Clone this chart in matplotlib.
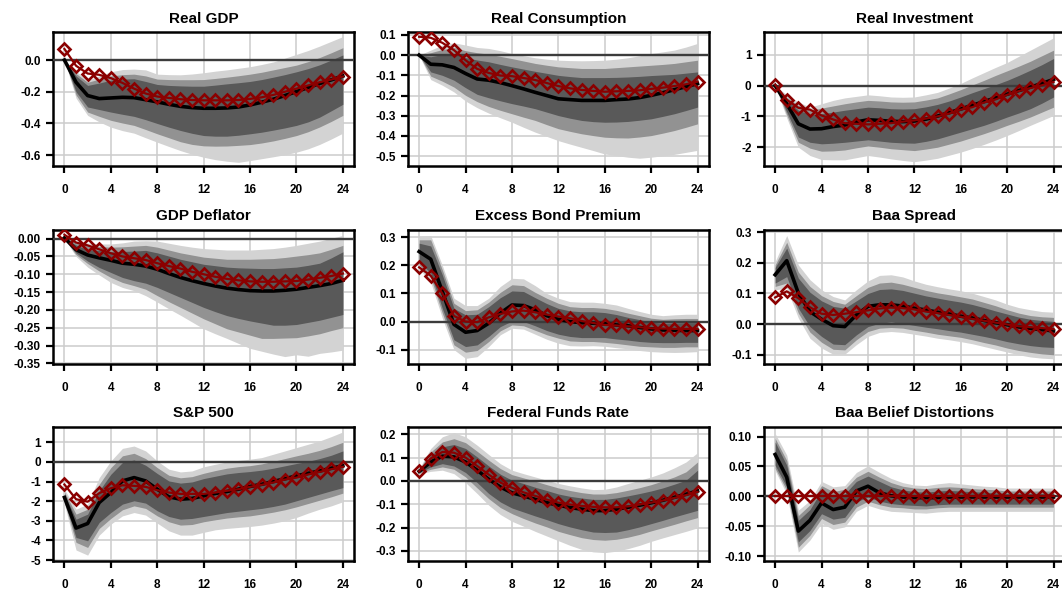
import numpy as np
import matplotlib.pyplot as plt
from matplotlib.ticker import FormatStrFormatter

plt.rcParams['font.family'] = ['Liberation Sans', 'DejaVu Sans']
plt.rcParams['font.weight'] = 'bold'

horizon = list(range(25))
xticks = [0, 4, 8, 12, 16, 20, 24]

# ---- Real GDP
gdp_red = [0.07, -0.036, -0.085, -0.093, -0.114, -0.144, -0.18, -0.211, -0.23, -0.239, -0.247, -0.252, -0.254,
           -0.254, -0.254, -0.252, -0.245, -0.235, -0.22, -0.2, -0.18, -0.16, -0.14, -0.123, -0.104]
gdp_med = [0.0, -0.14, -0.224, -0.243, -0.239, -0.235, -0.237, -0.25, -0.264, -0.279, -0.292, -0.3, -0.304,
           -0.304, -0.302, -0.296, -0.283, -0.266, -0.247, -0.224, -0.199, -0.173, -0.148, -0.125, -0.101]
gdp_o_hi = [0.0, -0.07, -0.127, -0.1, -0.074, -0.06, -0.057, -0.062, -0.089, -0.092, -0.093, -0.088, -0.08,
            -0.07, -0.062, -0.052, -0.042, -0.028, -0.012, 0.012, 0.036, 0.06, 0.088, 0.118, 0.148]
gdp_m_hi = [0.0, -0.085, -0.14, -0.12, -0.1, -0.092, -0.089, -0.1, -0.12, -0.123, -0.124, -0.124, -0.123,
            -0.116, -0.108, -0.099, -0.089, -0.077, -0.062, -0.047, -0.032, -0.01, 0.016, 0.046, 0.078]
gdp_i_hi = [0.0, -0.1, -0.16, -0.145, -0.127, -0.12, -0.118, -0.135, -0.154, -0.16, -0.163, -0.165, -0.165,
            -0.158, -0.15, -0.143, -0.135, -0.123, -0.108, -0.092, -0.074, -0.054, -0.03, 0.0, 0.032]
gdp_i_lo = [0.0, -0.2, -0.296, -0.312, -0.328, -0.342, -0.355, -0.376, -0.4, -0.423, -0.444, -0.462, -0.476,
            -0.48, -0.48, -0.474, -0.465, -0.455, -0.442, -0.428, -0.412, -0.39, -0.36, -0.32, -0.279]
gdp_m_lo = [0.0, -0.22, -0.328, -0.355, -0.38, -0.397, -0.412, -0.438, -0.465, -0.49, -0.515, -0.532, -0.541,
            -0.543, -0.542, -0.538, -0.533, -0.523, -0.51, -0.494, -0.476, -0.452, -0.422, -0.387, -0.349]
gdp_o_lo = [0.0, -0.24, -0.349, -0.39, -0.423, -0.445, -0.461, -0.49, -0.518, -0.545, -0.571, -0.594, -0.613,
            -0.628, -0.638, -0.645, -0.634, -0.622, -0.61, -0.597, -0.581, -0.56, -0.532, -0.498, -0.461]

# ---- Real Consumption
con_red = [0.091, 0.086, 0.061, 0.025, -0.025, -0.068, -0.088, -0.101, -0.104, -0.113, -0.123, -0.138, -0.153,
           -0.164, -0.172, -0.177, -0.181, -0.179, -0.177, -0.174, -0.167, -0.161, -0.153, -0.144, -0.131]
con_med = [0.0, -0.045, -0.048, -0.061, -0.091, -0.118, -0.124, -0.136, -0.151, -0.167, -0.184, -0.2, -0.216,
           -0.22, -0.224, -0.224, -0.224, -0.22, -0.217, -0.21, -0.199, -0.186, -0.171, -0.156, -0.141]
con_o_hi = [0.0, 0.025, 0.05, 0.061, 0.05, 0.038, 0.033, 0.022, 0.008, -0.003, -0.013, -0.02, -0.025,
            -0.027, -0.028, -0.027, -0.025, -0.02, -0.013, -0.003, 0.008, 0.016, 0.025, 0.04, 0.058]
con_m_hi = [0.0, 0.012, 0.028, 0.038, 0.022, 0.012, 0.005, -0.006, -0.017, -0.029, -0.041, -0.05, -0.058,
            -0.062, -0.066, -0.066, -0.066, -0.062, -0.058, -0.054, -0.05, -0.046, -0.041, -0.033, -0.025]
con_i_hi = [0.0, -0.008, 0.003, 0.008, -0.012, -0.024, -0.033, -0.046, -0.058, -0.069, -0.08, -0.09, -0.1,
            -0.106, -0.111, -0.111, -0.111, -0.11, -0.108, -0.105, -0.101, -0.098, -0.095, -0.089, -0.083]
con_i_lo = [0.0, -0.083, -0.1, -0.124, -0.161, -0.194, -0.211, -0.226, -0.24, -0.252, -0.265, -0.282, -0.299,
            -0.312, -0.323, -0.329, -0.332, -0.331, -0.328, -0.322, -0.315, -0.303, -0.29, -0.274, -0.257]
con_m_lo = [0.0, -0.104, -0.129, -0.158, -0.199, -0.23, -0.254, -0.273, -0.29, -0.307, -0.323, -0.344, -0.364,
            -0.377, -0.389, -0.398, -0.406, -0.409, -0.41, -0.405, -0.398, -0.386, -0.373, -0.357, -0.34]
con_o_lo = [0.0, -0.121, -0.149, -0.182, -0.227, -0.26, -0.287, -0.31, -0.332, -0.357, -0.381, -0.402, -0.423,
            -0.44, -0.456, -0.472, -0.489, -0.497, -0.505, -0.51, -0.505, -0.498, -0.491, -0.481, -0.471]

# ---- Real Investment
inv_red = [0.03, -0.46, -0.72, -0.78, -0.97, -1.1, -1.22, -1.24, -1.26, -1.24, -1.22, -1.17, -1.13,
           -1.07, -1.0, -0.91, -0.78, -0.7, -0.55, -0.45, -0.3, -0.18, -0.08, 0.01, 0.12]
inv_med = [0.0, -0.59, -1.24, -1.41, -1.4, -1.33, -1.28, -1.18, -1.11, -1.13, -1.16, -1.17, -1.15,
           -1.09, -0.99, -0.88, -0.76, -0.64, -0.52, -0.4, -0.28, -0.16, -0.05, 0.07, 0.2]
inv_o_hi = [0.0, -0.3, -0.53, -0.7, -0.59, -0.48, -0.4, -0.35, -0.3, -0.33, -0.37, -0.38, -0.37,
            -0.3, -0.22, -0.08, 0.07, 0.25, 0.42, 0.59, 0.75, 0.95, 1.15, 1.35, 1.55]
inv_m_hi = [0.0, -0.38, -0.64, -0.8, -0.73, -0.66, -0.59, -0.53, -0.48, -0.5, -0.53, -0.54, -0.53,
            -0.47, -0.4, -0.27, -0.13, 0.02, 0.17, 0.33, 0.48, 0.63, 0.79, 0.97, 1.15]
inv_i_hi = [0.0, -0.45, -0.8, -0.93, -0.91, -0.86, -0.8, -0.75, -0.7, -0.72, -0.75, -0.76, -0.75,
            -0.69, -0.61, -0.5, -0.37, -0.23, -0.1, 0.03, 0.17, 0.33, 0.5, 0.68, 0.88]
inv_i_lo = [0.0, -0.85, -1.67, -1.84, -1.89, -1.87, -1.84, -1.8, -1.76, -1.8, -1.84, -1.86, -1.87,
            -1.81, -1.73, -1.62, -1.51, -1.4, -1.29, -1.16, -1.02, -0.89, -0.75, -0.57, -0.37]
inv_m_lo = [0.0, -0.95, -1.84, -2.03, -2.13, -2.12, -2.09, -2.02, -1.96, -2.0, -2.05, -2.08, -2.11,
            -2.06, -2.0, -1.9, -1.8, -1.68, -1.56, -1.43, -1.29, -1.16, -1.02, -0.86, -0.7]
inv_o_lo = [0.0, -1.05, -2.0, -2.27, -2.4, -2.41, -2.41, -2.34, -2.27, -2.32, -2.38, -2.43, -2.47,
            -2.42, -2.36, -2.26, -2.16, -2.04, -1.91, -1.77, -1.62, -1.46, -1.29, -1.13, -0.97]

# ---- GDP Deflator
def_red = [0.011, -0.011, -0.019, -0.03, -0.041, -0.05, -0.055, -0.06, -0.069, -0.077, -0.084, -0.093, -0.1,
           -0.107, -0.113, -0.117, -0.12, -0.121, -0.121, -0.12, -0.119, -0.115, -0.11, -0.105, -0.098]
def_med = [0.002, -0.031, -0.046, -0.054, -0.061, -0.069, -0.072, -0.077, -0.086, -0.098, -0.109, -0.118, -0.126,
           -0.133, -0.139, -0.143, -0.146, -0.147, -0.147, -0.145, -0.142, -0.137, -0.132, -0.126, -0.117]
def_o_hi = [0.005, -0.006, -0.012, -0.015, -0.015, -0.012, -0.007, -0.006, -0.007, -0.013, -0.019, -0.024, -0.028,
            -0.03, -0.032, -0.032, -0.032, -0.03, -0.028, -0.024, -0.019, -0.013, -0.007, 0.001, 0.009]
def_m_hi = [0.004, -0.012, -0.02, -0.022, -0.024, -0.023, -0.021, -0.019, -0.024, -0.032, -0.04, -0.046, -0.052,
            -0.055, -0.058, -0.058, -0.058, -0.057, -0.056, -0.053, -0.049, -0.045, -0.04, -0.03, -0.019]
def_i_hi = [0.003, -0.018, -0.031, -0.033, -0.037, -0.036, -0.035, -0.033, -0.04, -0.049, -0.058, -0.065, -0.072,
            -0.076, -0.08, -0.082, -0.083, -0.084, -0.084, -0.082, -0.08, -0.075, -0.069, -0.054, -0.037]
def_i_lo = [0.0, -0.04, -0.063, -0.081, -0.095, -0.109, -0.118, -0.125, -0.137, -0.151, -0.165, -0.179, -0.193,
            -0.205, -0.216, -0.224, -0.231, -0.237, -0.243, -0.243, -0.241, -0.235, -0.229, -0.221, -0.213]
def_m_lo = [0.0, -0.045, -0.07, -0.091, -0.109, -0.123, -0.132, -0.142, -0.16, -0.177, -0.193, -0.209, -0.225,
            -0.239, -0.253, -0.262, -0.271, -0.28, -0.28, -0.279, -0.278, -0.273, -0.267, -0.258, -0.25]
def_o_lo = [0.0, -0.05, -0.08, -0.102, -0.123, -0.137, -0.146, -0.16, -0.178, -0.197, -0.215, -0.234, -0.253,
            -0.267, -0.28, -0.294, -0.308, -0.316, -0.324, -0.331, -0.326, -0.33, -0.322, -0.318, -0.313]

# ---- Excess Bond Premium
ebp_red = [0.193, 0.163, 0.1, 0.02, 0.0, -0.002, 0.015, 0.027, 0.036, 0.039, 0.033, 0.025, 0.018,
           0.012, 0.002, -0.005, -0.012, -0.014, -0.017, -0.02, -0.024, -0.025, -0.026, -0.026, -0.026]
ebp_med = [0.249, 0.222, 0.107, -0.01, -0.038, -0.032, -0.006, 0.03, 0.059, 0.057, 0.042, 0.021, 0.008,
           0.0, -0.004, -0.006, -0.008, -0.012, -0.015, -0.021, -0.026, -0.03, -0.031, -0.032, -0.032]
ebp_o_hi = [0.303, 0.306, 0.2, 0.083, 0.057, 0.057, 0.083, 0.125, 0.154, 0.152, 0.128, 0.1, 0.083,
            0.071, 0.069, 0.069, 0.065, 0.059, 0.047, 0.036, 0.026, 0.021, 0.024, 0.026, 0.026]
ebp_m_hi = [0.291, 0.291, 0.184, 0.065, 0.039, 0.042, 0.069, 0.104, 0.131, 0.128, 0.104, 0.083, 0.065,
            0.053, 0.05, 0.05, 0.047, 0.04, 0.03, 0.021, 0.012, 0.008, 0.01, 0.011, 0.011]
ebp_i_hi = [0.279, 0.269, 0.166, 0.047, 0.024, 0.026, 0.053, 0.085, 0.109, 0.107, 0.085, 0.064, 0.047,
            0.038, 0.035, 0.035, 0.032, 0.025, 0.015, 0.007, -0.002, -0.006, -0.005, -0.004, -0.004]
ebp_i_lo = [0.214, 0.172, 0.047, -0.065, -0.089, -0.083, -0.053, -0.018, 0.002, 0.0, -0.015, -0.032, -0.045,
            -0.053, -0.057, -0.057, -0.057, -0.062, -0.066, -0.071, -0.074, -0.075, -0.075, -0.074, -0.074]
ebp_m_lo = [0.202, 0.157, 0.03, -0.083, -0.109, -0.103, -0.071, -0.033, -0.012, -0.015, -0.031, -0.047, -0.059,
            -0.069, -0.071, -0.071, -0.074, -0.078, -0.083, -0.088, -0.09, -0.092, -0.092, -0.09, -0.09]
ebp_o_lo = [0.188, 0.14, 0.012, -0.1, -0.131, -0.125, -0.089, -0.047, -0.024, -0.027, -0.045, -0.063, -0.077,
            -0.086, -0.087, -0.086, -0.088, -0.093, -0.097, -0.103, -0.107, -0.109, -0.11, -0.109, -0.107]

# ---- Baa Spread
baa_red = [0.087, 0.107, 0.085, 0.055, 0.034, 0.03, 0.034, 0.039, 0.045, 0.051, 0.054, 0.052, 0.048,
           0.041, 0.036, 0.03, 0.024, 0.017, 0.011, 0.005, -0.001, -0.007, -0.01, -0.013, -0.016]
baa_med = [0.161, 0.207, 0.101, 0.041, 0.016, -0.005, -0.008, 0.03, 0.058, 0.063, 0.063, 0.059, 0.052,
           0.046, 0.039, 0.033, 0.026, 0.02, 0.012, 0.005, -0.002, -0.009, -0.014, -0.018, -0.022]
baa_o_hi = [0.204, 0.289, 0.193, 0.145, 0.112, 0.09, 0.079, 0.112, 0.141, 0.159, 0.161, 0.154, 0.141,
            0.13, 0.122, 0.115, 0.109, 0.101, 0.09, 0.079, 0.065, 0.054, 0.047, 0.041, 0.039]
baa_m_hi = [0.193, 0.267, 0.17, 0.123, 0.093, 0.074, 0.065, 0.093, 0.12, 0.134, 0.137, 0.13, 0.12,
            0.11, 0.102, 0.096, 0.089, 0.082, 0.071, 0.06, 0.047, 0.036, 0.028, 0.024, 0.022]
baa_i_hi = [0.185, 0.248, 0.15, 0.104, 0.076, 0.058, 0.052, 0.076, 0.1, 0.113, 0.115, 0.11, 0.101,
            0.092, 0.085, 0.078, 0.072, 0.064, 0.054, 0.043, 0.033, 0.023, 0.016, 0.012, 0.009]
baa_i_lo = [0.134, 0.155, 0.052, -0.008, -0.04, -0.065, -0.067, -0.035, -0.008, 0.003, 0.007, 0.002, -0.004,
            -0.01, -0.015, -0.021, -0.026, -0.033, -0.04, -0.048, -0.057, -0.064, -0.07, -0.074, -0.076]
baa_m_lo = [0.123, 0.134, 0.036, -0.026, -0.059, -0.082, -0.084, -0.051, -0.024, -0.013, -0.011, -0.013, -0.02,
            -0.026, -0.033, -0.038, -0.043, -0.051, -0.06, -0.068, -0.078, -0.086, -0.092, -0.097, -0.1]
baa_o_lo = [0.112, 0.117, 0.02, -0.046, -0.078, -0.098, -0.098, -0.067, -0.04, -0.027, -0.024, -0.027, -0.033,
            -0.039, -0.046, -0.051, -0.057, -0.064, -0.073, -0.082, -0.091, -0.1, -0.107, -0.111, -0.113]

# ---- S&P 500
sp_red = [-1.15, -1.9, -2.03, -1.59, -1.34, -1.19, -1.22, -1.27, -1.44, -1.56, -1.63, -1.63, -1.63,
          -1.56, -1.47, -1.39, -1.27, -1.17, -1.05, -0.9, -0.8, -0.64, -0.51, -0.37, -0.25]
sp_med = [-1.81, -3.37, -3.14, -2.07, -1.56, -0.97, -0.8, -0.97, -1.39, -1.78, -1.9, -1.86, -1.73,
          -1.61, -1.51, -1.39, -1.25, -1.14, -1.0, -0.86, -0.71, -0.58, -0.46, -0.32, -0.2]
sp_o_hi = [-1.39, -2.41, -2.15, -0.8, 0.05, 0.69, 0.81, 0.56, 0.05, -0.37, -0.51, -0.46, -0.25,
           -0.12, 0.0, 0.08, 0.14, 0.22, 0.39, 0.56, 0.73, 0.9, 1.07, 1.29, 1.53]
sp_m_hi = [-1.53, -2.66, -2.41, -1.14, -0.29, 0.31, 0.44, 0.17, -0.29, -0.68, -0.81, -0.75, -0.58,
           -0.44, -0.32, -0.24, -0.19, -0.1, 0.03, 0.17, 0.31, 0.44, 0.59, 0.78, 1.0]
sp_i_hi = [-1.64, -2.92, -2.66, -1.47, -0.63, -0.03, 0.1, -0.17, -0.59, -0.97, -1.08, -1.02, -0.85,
           -0.73, -0.61, -0.54, -0.49, -0.42, -0.32, -0.2, -0.08, 0.03, 0.17, 0.34, 0.56]
sp_i_lo = [-1.98, -3.85, -4.02, -3.08, -2.58, -2.15, -1.98, -2.1, -2.49, -2.78, -2.92, -2.88, -2.78,
           -2.68, -2.58, -2.51, -2.44, -2.37, -2.27, -2.15, -1.98, -1.81, -1.64, -1.47, -1.31]
sp_m_lo = [-2.07, -4.1, -4.36, -3.39, -2.88, -2.44, -2.24, -2.37, -2.75, -3.05, -3.22, -3.19, -3.05,
           -2.95, -2.86, -2.8, -2.75, -2.66, -2.56, -2.44, -2.29, -2.12, -1.95, -1.78, -1.59]
sp_o_lo = [-2.15, -4.49, -4.75, -3.73, -3.17, -2.75, -2.58, -2.71, -3.12, -3.51, -3.73, -3.73, -3.59,
           -3.46, -3.39, -3.34, -3.29, -3.22, -3.12, -3.0, -2.83, -2.61, -2.41, -2.24, -2.03]

# ---- Federal Funds Rate
ffr_red = [0.041, 0.096, 0.124, 0.121, 0.1, 0.064, 0.027, -0.007, -0.029, -0.049, -0.064, -0.08, -0.093,
           -0.101, -0.107, -0.111, -0.113, -0.113, -0.109, -0.101, -0.093, -0.084, -0.073, -0.061, -0.047]
ffr_med = [0.041, 0.081, 0.106, 0.103, 0.081, 0.046, 0.007, -0.026, -0.051, -0.064, -0.079, -0.093, -0.104,
           -0.114, -0.121, -0.127, -0.127, -0.121, -0.113, -0.104, -0.094, -0.083, -0.07, -0.057, -0.043]
ffr_o_hi = [0.053, 0.139, 0.189, 0.207, 0.189, 0.153, 0.113, 0.074, 0.046, 0.031, 0.017, 0.003, -0.011,
            -0.021, -0.03, -0.037, -0.036, -0.026, -0.011, 0.003, 0.017, 0.034, 0.056, 0.081, 0.121]
ffr_m_hi = [0.05, 0.124, 0.167, 0.181, 0.164, 0.127, 0.089, 0.053, 0.027, 0.013, -0.001, -0.016, -0.03,
            -0.041, -0.05, -0.056, -0.056, -0.05, -0.04, -0.029, -0.016, 0.0, 0.017, 0.039, 0.081]
ffr_i_hi = [0.047, 0.11, 0.146, 0.156, 0.139, 0.103, 0.064, 0.029, 0.003, -0.011, -0.027, -0.041, -0.056,
            -0.066, -0.073, -0.079, -0.079, -0.073, -0.064, -0.054, -0.043, -0.03, -0.014, 0.003, 0.046]
ffr_i_lo = [0.036, 0.06, 0.074, 0.064, 0.036, -0.007, -0.054, -0.09, -0.116, -0.133, -0.15, -0.166, -0.183,
            -0.197, -0.209, -0.219, -0.221, -0.219, -0.209, -0.197, -0.183, -0.169, -0.154, -0.14, -0.126]
ffr_m_lo = [0.033, 0.05, 0.06, 0.05, 0.017, -0.03, -0.076, -0.114, -0.14, -0.161, -0.18, -0.197, -0.216,
            -0.23, -0.243, -0.251, -0.254, -0.25, -0.241, -0.229, -0.214, -0.2, -0.186, -0.171, -0.157]
ffr_o_lo = [0.03, 0.041, 0.046, 0.031, -0.007, -0.054, -0.104, -0.144, -0.173, -0.194, -0.216, -0.236, -0.256,
            -0.276, -0.293, -0.304, -0.307, -0.301, -0.29, -0.276, -0.259, -0.244, -0.23, -0.216, -0.201]

# ---- Baa Belief Distortions
bel_red = [0.0] * 25
bel_med = [0.07, 0.032, -0.058, -0.04, -0.011, -0.022, -0.018, 0.009, 0.017, 0.006, 0.001, -0.001, -0.002,
           -0.002, -0.002, -0.001, -0.001, -0.001, -0.001, -0.001, -0.001, -0.001, -0.001, -0.001, -0.001]
bel_o_hi = [0.105, 0.069, -0.023, -0.007, 0.025, 0.016, 0.018, 0.04, 0.051, 0.04, 0.03, 0.023, 0.019,
            0.018, 0.021, 0.023, 0.021, 0.019, 0.017, 0.016, 0.014, 0.014, 0.014, 0.014, 0.014]
bel_m_hi = [0.097, 0.06, -0.032, -0.014, 0.018, 0.008, 0.012, 0.032, 0.042, 0.032, 0.023, 0.017, 0.014,
            0.013, 0.015, 0.016, 0.015, 0.013, 0.012, 0.011, 0.009, 0.009, 0.009, 0.009, 0.009]
bel_i_hi = [0.091, 0.052, -0.04, -0.022, 0.01, 0.001, 0.004, 0.025, 0.034, 0.025, 0.016, 0.011, 0.008,
            0.007, 0.009, 0.01, 0.009, 0.008, 0.007, 0.006, 0.005, 0.005, 0.005, 0.005, 0.005]
bel_i_lo = [0.052, 0.016, -0.076, -0.057, -0.029, -0.038, -0.035, -0.009, -0.001, -0.008, -0.012, -0.014, -0.015,
            -0.016, -0.014, -0.013, -0.013, -0.013, -0.013, -0.013, -0.013, -0.013, -0.013, -0.013, -0.013]
bel_m_lo = [0.047, 0.01, -0.085, -0.065, -0.037, -0.047, -0.043, -0.018, -0.008, -0.014, -0.018, -0.019, -0.021,
            -0.021, -0.019, -0.018, -0.018, -0.018, -0.018, -0.018, -0.018, -0.018, -0.018, -0.018, -0.018]
bel_o_lo = [0.043, 0.004, -0.093, -0.073, -0.045, -0.055, -0.051, -0.025, -0.015, -0.021, -0.025, -0.026, -0.027,
            -0.028, -0.026, -0.025, -0.025, -0.025, -0.025, -0.025, -0.025, -0.025, -0.025, -0.025, -0.025]

titles = ['Real GDP', 'Real Consumption', 'Real Investment',
          'GDP Deflator', 'Excess Bond Premium', 'Baa Spread',
          'S&P 500', 'Federal Funds Rate', 'Baa Belief Distortions']

panels = [
    (gdp_red, gdp_med, gdp_o_hi, gdp_m_hi, gdp_i_hi, gdp_i_lo, gdp_m_lo, gdp_o_lo),
    (con_red, con_med, con_o_hi, con_m_hi, con_i_hi, con_i_lo, con_m_lo, con_o_lo),
    (inv_red, inv_med, inv_o_hi, inv_m_hi, inv_i_hi, inv_i_lo, inv_m_lo, inv_o_lo),
    (def_red, def_med, def_o_hi, def_m_hi, def_i_hi, def_i_lo, def_m_lo, def_o_lo),
    (ebp_red, ebp_med, ebp_o_hi, ebp_m_hi, ebp_i_hi, ebp_i_lo, ebp_m_lo, ebp_o_lo),
    (baa_red, baa_med, baa_o_hi, baa_m_hi, baa_i_hi, baa_i_lo, baa_m_lo, baa_o_lo),
    (sp_red, sp_med, sp_o_hi, sp_m_hi, sp_i_hi, sp_i_lo, sp_m_lo, sp_o_lo),
    (ffr_red, ffr_med, ffr_o_hi, ffr_m_hi, ffr_i_hi, ffr_i_lo, ffr_m_lo, ffr_o_lo),
    (bel_red, bel_med, bel_o_hi, bel_m_hi, bel_i_hi, bel_i_lo, bel_m_lo, bel_o_lo),
]

yticks = [
    [-0.6, -0.4, -0.2, 0.0],
    [-0.5, -0.4, -0.3, -0.2, -0.1, 0.0, 0.1],
    [-2, -1, 0, 1],
    [-0.35, -0.30, -0.25, -0.20, -0.15, -0.10, -0.05, 0.00],
    [-0.1, 0.0, 0.1, 0.2, 0.3],
    [-0.1, 0.0, 0.1, 0.2, 0.3],
    [-5, -4, -3, -2, -1, 0, 1],
    [-0.3, -0.2, -0.1, 0.0, 0.1, 0.2],
    [-0.10, -0.05, 0.00, 0.05, 0.10],
]
ylims = [(-0.67, 0.175), (-0.55, 0.113), (-2.62, 1.73),
         (-0.351, 0.025), (-0.15, 0.327), (-0.129, 0.308),
         (-5.05, 1.78), (-0.343, 0.231), (-0.108, 0.116)]
yfmt = ['%.1f', '%.1f', '%.0f', '%.2f', '%.1f', '%.1f', '%.0f', '%.1f', '%.2f']

W, H = 1062, 594
col_left = [53.3, 408, 764]
row_top = [32.3, 229.7, 427]
ax_w, ax_h = 300.7, 134

LIGHT, MID, DARK = '#d3d3d3', '#929292', '#595959'
RED = '#8b0000'

fig = plt.figure(figsize=(W / 100, H / 100), dpi=100)

for k, (title, series) in enumerate(zip(titles, panels)):
    r, c = divmod(k, 3)
    rect = [col_left[c] / W, 1 - (row_top[r] + ax_h) / H, ax_w / W, ax_h / H]
    ax = fig.add_axes(rect)
    red, med, o_hi, m_hi, i_hi, i_lo, m_lo, o_lo = series

    ax.set_xlim(-0.96, 24.96)
    ax.set_ylim(*ylims[k])
    ax.set_xticks(xticks)
    ax.set_yticks(yticks[k])
    ax.yaxis.set_major_formatter(FormatStrFormatter(yfmt[k]))
    ax.grid(True, color='#cccccc', lw=1.1, zorder=0)
    ax.set_axisbelow(True)

    ax.fill_between(horizon, o_lo, o_hi, color=LIGHT, lw=0, zorder=1)
    ax.fill_between(horizon, m_lo, m_hi, color=MID, lw=0, zorder=2)
    ax.fill_between(horizon, i_lo, i_hi, color=DARK, lw=0, zorder=3)
    ax.axhline(0, color='#3c3c3c', lw=1.7, zorder=4)
    ax.plot(horizon, med, color='black', lw=2.6, zorder=5)
    ax.plot(horizon, red, color=RED, lw=1.6, marker='D', ms=6,
            mfc='none', mec=RED, mew=1.9, zorder=6)

    for sp in ax.spines.values():
        sp.set_linewidth(1.8)
        sp.set_color('black')
    ax.tick_params(axis='both', direction='out', length=5, width=1.6,
                   labelsize=8.5, color='black')
    ax.tick_params(axis='x', pad=8)
    ax.tick_params(axis='y', pad=4)
    for lab in ax.get_xticklabels() + ax.get_yticklabels():
        lab.set_fontweight('bold')
    ax.set_title(title, fontsize=11, fontweight='bold', pad=7)

fig.savefig('out.png', dpi=100)
